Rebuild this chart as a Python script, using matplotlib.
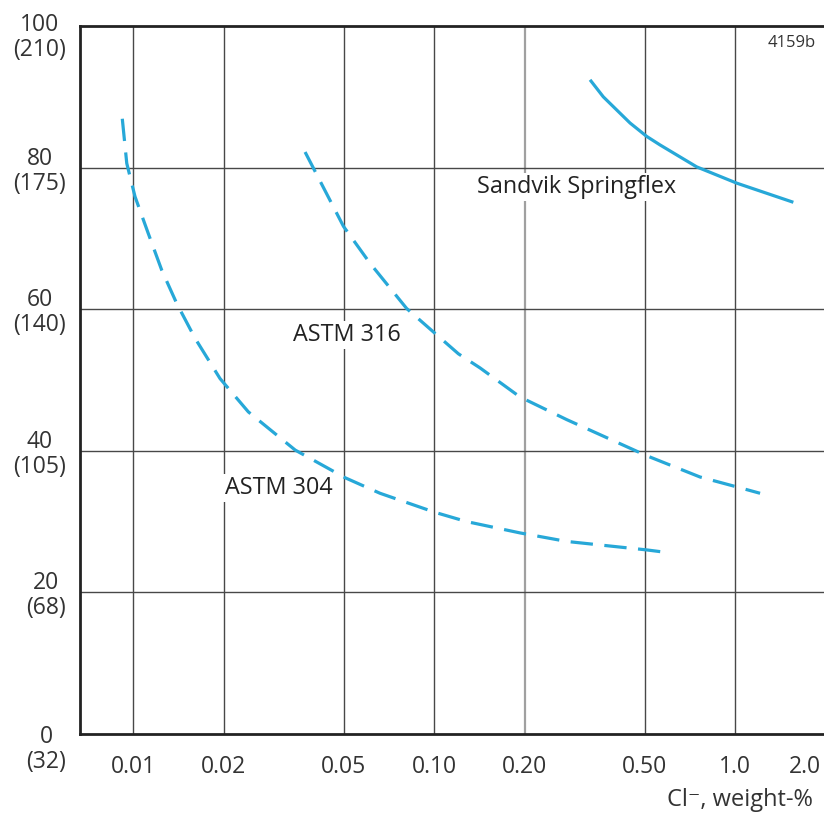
import matplotlib
matplotlib.use("Agg")
import matplotlib.pyplot as plt
from matplotlib.transforms import ScaledTranslation

plt.rcParams['font.family'] = ['Open Sans', 'DejaVu Sans']

# ---- data ----
x_ticks = [0.01, 0.02, 0.05, 0.10, 0.20, 0.50, 1.0, 2.0]
x_tick_labels = ["0.01", "0.02", "0.05", "0.10", "0.20", "0.50", "1.0", "2.0"]
y_ticks = [0, 20, 40, 60, 80, 100]
y_tick_labels = ["0\n(32)", "20\n(68)", "40\n(105)", "60\n(140)", "80\n(175)", "100\n(210)"]

springflex_x = [0.329, 0.364, 0.4467, 0.5077, 0.562, 0.744, 1.011, 1.558]
springflex_y = [92.4, 90.0, 86.3, 84.4, 83.2, 80.1, 77.8, 75.1]

astm316_x = [0.0372, 0.0499, 0.0611, 0.0809, 0.0992, 0.1202, 0.1419, 0.1926,
             0.2754, 0.5077, 0.763, 1.011, 1.208]
astm316_y = [82.2, 71.7, 66.5, 60.1, 56.8, 53.7, 51.7, 47.6,
             44.4, 39.3, 36.3, 34.9, 34.0]

astm304_x = [0.00919, 0.00951, 0.01013, 0.01121, 0.01243, 0.01394, 0.01603,
             0.01941, 0.0241, 0.0345, 0.0505, 0.066, 0.1006, 0.128, 0.1927,
             0.275, 0.5077, 0.5765]
astm304_y = [86.9, 80.6, 75.9, 70.7, 65.5, 60.8, 55.9,
             50.2, 45.5, 40.1, 36.2, 34.0, 31.3, 30.0, 28.4,
             27.2, 26.0, 25.7]

labels = ["Sandvik Springflex", "ASTM 316", "ASTM 304"]
x_axis_label = "Cl\u207b, weight-%"
figure_code = "4159b"

# ---- figure ----
W, H = 824, 815
fig = plt.figure(figsize=(W / 100, H / 100), dpi=100)
ax = fig.add_axes([80 / W, (H - 734) / H, (826 - 80) / W, (734 - 26) / H])

line_color = '#27a8d8'
ax.set_xscale('log')
ax.set_xlim(0.00665, 2.0)
ax.set_ylim(0, 100)

ax.plot(springflex_x, springflex_y, color=line_color, lw=2.3,
        solid_capstyle='butt', solid_joinstyle='round', zorder=3)
ax.plot(astm316_x, astm316_y, color=line_color, lw=2.3, dashes=(7, 3.6),
        dash_capstyle='butt', dash_joinstyle='round', zorder=3)
ax.plot(astm304_x, astm304_y, color=line_color, lw=2.3, dashes=(7, 3.6),
        dash_capstyle='butt', dash_joinstyle='round', zorder=3)

# grid
for xv in x_ticks:
    if xv == 0.20:
        ax.axvline(xv, color='#a0a0a0', lw=1.6, zorder=1)
    else:
        ax.axvline(xv, color='#484848', lw=1.0, zorder=1)
for yv in y_ticks[1:-1]:
    ax.axhline(yv, color='#484848', lw=1.0, zorder=1)

ax.set_xticks(x_ticks)
ax.set_xticklabels(x_tick_labels, fontsize=16.5, color='#333333')
ax.set_xticks([], minor=True)
ax.set_yticks(y_ticks)
ax.set_yticklabels(y_tick_labels, fontsize=16.5, color='#333333',
                   multialignment='center', linespacing=1.05)
ax.tick_params(axis='both', length=0)
ax.tick_params(axis='x', pad=15)
ax.tick_params(axis='y', pad=10)

# label position tweaks
xl = ax.get_xticklabels()
xl[-1].set_transform(xl[-1].get_transform() + ScaledTranslation(-21 / 100, 0, fig.dpi_scale_trans))
yl = ax.get_yticklabels()
yl[0].set_transform(yl[0].get_transform() + ScaledTranslation(0, -12 / 100, fig.dpi_scale_trans))
yl[-1].set_transform(yl[-1].get_transform() + ScaledTranslation(0, -8 / 100, fig.dpi_scale_trans))

for side in ['left', 'top', 'bottom']:
    ax.spines[side].set_linewidth(2.0)
    ax.spines[side].set_color('#222222')
ax.spines['right'].set_visible(False)

# curve labels
bbox = dict(facecolor='white', edgecolor='none', pad=1.5)
lab_y = lambda py: (734 - py) / 7.08
ax.text(10 ** ((477 - 133.3) / 301) * 0.01, lab_y(187), labels[0], fontsize=16.8,
        ha='left', va='center', color='#222222', bbox=bbox, zorder=4)
ax.text(10 ** ((293 - 133.3) / 301) * 0.01, lab_y(335), labels[1], fontsize=16.8,
        ha='left', va='center', color='#222222', bbox=bbox, zorder=4)
ax.text(10 ** ((225 - 133.3) / 301) * 0.01, lab_y(488), labels[2], fontsize=16.8,
        ha='left', va='center', color='#222222', bbox=bbox, zorder=4)

fig.text(792 / W, 1 - 43 / H, figure_code, fontsize=12, ha='center', va='center', color='#333333')
fig.text(813 / W, 1 - 800 / H, x_axis_label, fontsize=17, ha='right', va='center', color='#333333')

fig.savefig("out.png", dpi=100)
